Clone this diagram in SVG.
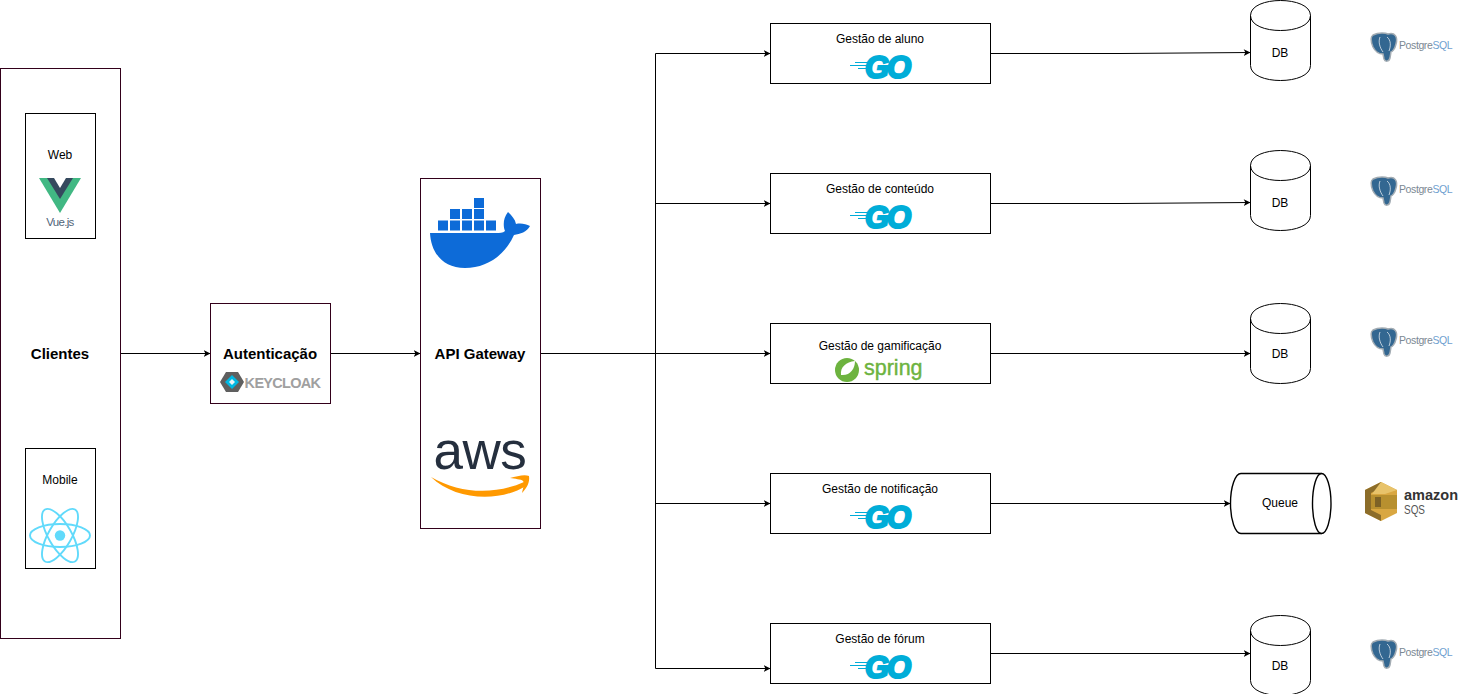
<svg xmlns="http://www.w3.org/2000/svg" width="1471" height="694" viewBox="0 0 1471 694">
<style>
text{font-family:"Liberation Sans",Arial,sans-serif;fill:#000;text-anchor:middle}
.t{font-size:12px}
.b{font-size:15px;font-weight:700}
.p{fill:#fff;stroke:#33001a;stroke-width:1}
.k{fill:#fff;stroke:#000;stroke-width:1}
.c{fill:none;stroke:#000;stroke-width:1}
.g{font-size:31px;font-weight:700;font-style:italic;fill:#00add8;stroke:#00add8;stroke-width:2.200px;letter-spacing:-2px}
</style>
<defs>
<marker id="a" markerWidth="8" markerHeight="8" refX="7" refY="4" orient="auto" markerUnits="userSpaceOnUse"><path d="M0.200 0.600L7 4L0.200 7.400L1.900 4Z" fill="#000"/></marker>
<g id="go">
<path d="M-9 -3.500H5M-14 -0.500H5M-6 2.500H3" stroke="#00add8" stroke-width="1" fill="none"/>
<text class="g" x="23" y="12">GO</text>
</g>
<g id="cyl">
<path class="k" d="M0 15C0 -5 60 -5 60 15V65C60 85 0 85 0 65Z"/>
<path class="c" d="M0 15C0 35 60 35 60 15"/>
</g>
<g id="pg">
<path d="M2 1C8 -2 15 -1 17 0C24 -2 27 3 25 10C24 15 21 18 20 18L19 24C18 28 14 28 13 25L12 20C8 20 4 17 2 13C0 8 -1 3 2 1Z" fill="#336791" stroke="#a3acb3" stroke-width="1.500"/>
<path d="M9 3C7 8 9 14 12 18M16 3C20 6 20 12 18 17" stroke="#dfe7ee" stroke-width=".8" fill="none"/>
<text x="28" y="15" style="font-size:10.500px;text-anchor:start;fill:#7b8893;letter-spacing:-.4px">Postgre<tspan fill="#6f9fd0">SQL</tspan></text>
</g>
</defs>

<g id="connectors">
<path class="c" marker-end="url(#a)" d="M120.500 353.500H210.500"/>
<path class="c" marker-end="url(#a)" d="M330.500 353.500H420.500"/>
<path class="c" marker-end="url(#a)" d="M540.500 353.500H770.500"/>
<path class="c" marker-end="url(#a)" d="M655.500 353.500V53.500H770.500"/>
<path class="c" marker-end="url(#a)" d="M655.500 353.500V203.500H770.500"/>
<path class="c" marker-end="url(#a)" d="M655.500 353.500V503.500H770.500"/>
<path class="c" marker-end="url(#a)" d="M655.500 353.500V668.500H770.500"/>
<path class="c" marker-end="url(#a)" d="M990.500 53.500H1120L1250.500 52.500"/>
<path class="c" marker-end="url(#a)" d="M990.500 203.500H1120L1250.500 202.500"/>
<path class="c" marker-end="url(#a)" d="M990.500 353.500H1250.500"/>
<path class="c" marker-end="url(#a)" d="M990.500 503.500H1230.500"/>
<path class="c" marker-end="url(#a)" d="M990.500 653.500H1250.500"/>
</g>

<g id="clientes">
<rect class="p" x="0.500" y="68.500" width="120" height="570"/>
<text class="b" x="60" y="359">Clientes</text>
</g>
<g id="web">
<rect class="k" x="25.500" y="113.500" width="70" height="125"/>
<text class="t" x="60" y="159">Web</text>
<path d="M39 178H81L60 213Z" fill="#41b883"/>
<path d="M47 178H73L60 199Z" fill="#35495e"/>
<path d="M54 178H66L60 188Z" fill="#fff"/>
<text x="60" y="226" style="font-size:11.500px;fill:#4f6478;letter-spacing:-.7px">Vue.js</text>
</g>
<g id="mobile">
<rect class="k" x="25.500" y="448.500" width="70" height="120"/>
<text class="t" x="60" y="484">Mobile</text>
<g fill="none" stroke="#61dafb" stroke-width="1.900">
<ellipse cx="60" cy="535.500" rx="30" ry="11.500"/>
<ellipse cx="60" cy="535.500" rx="30" ry="11.500" transform="rotate(60 60 535.500)"/>
<ellipse cx="60" cy="535.500" rx="30" ry="11.500" transform="rotate(120 60 535.500)"/>
</g>
<circle cx="60" cy="535.500" r="5.200" fill="#61dafb"/>
</g>
<g id="autenticacao">
<rect class="p" x="210.500" y="303.500" width="120" height="100"/>
<text class="b" x="270" y="359">Autenticação</text>
<path d="M226 372H238L244 382L238 392H226L220 382Z" fill="#5f5f5f"/>
<path d="M232 375L239 382L232 389L225 382Z" fill="#00b8e3"/>
<path d="M232 379L235 382L232 385L229 382Z" fill="#e8f4f8"/>
<text x="282.500" y="388" style="font-size:14.500px;font-weight:700;fill:#a0a0a0;letter-spacing:-.7px">KEYCLOAK</text>
</g>
<g id="api-gateway">
<rect class="p" x="420.500" y="178.500" width="120" height="350"/>
<text class="b" x="480" y="359">API Gateway</text>
<g fill="#0d6bd8">
<path d="M430 233H497C499 233 503 233 505 231C503 226 503 218 508 212C512 216 515 219 516 224C521 223 526 224 530 226C527 232 520 234 514 235C505 255 487 268 465 268C443 268 431 253 430 233Z"/>
<rect x="438" y="220.500" width="10" height="10"/><rect x="450" y="220.500" width="10" height="10"/><rect x="462" y="220.500" width="10" height="10"/><rect x="474" y="220.500" width="10" height="10"/><rect x="486" y="220.500" width="10" height="10"/>
<rect x="450" y="209" width="10" height="10"/><rect x="462" y="209" width="10" height="10"/><rect x="474" y="209" width="10" height="10"/>
<rect x="474" y="198" width="10" height="10"/>
</g>
<text x="480" y="469" style="font-size:53px;fill:#252f3e;letter-spacing:-.5px">aws</text>
<path d="M431 477C460 494 495 495 524 482L526 486C498 503 455 500 431 477Z" fill="#ff9900"/>
<path d="M510 478C517 476 525 474 529 476C530 482 527 488 522 493C523 488 525 483 523 481C521 479 515 479 510 478Z" fill="#ff9900"/>
</g>
<g id="gestao-aluno">
<rect class="k" x="770.500" y="23.500" width="220" height="60"/>
<text class="t" x="880" y="43">Gestão de aluno</text>
<use href="#go" x="864" y="66"/>
</g>
<g id="gestao-conteudo">
<rect class="k" x="770.500" y="173.500" width="220" height="60"/>
<text class="t" x="880" y="193">Gestão de conteúdo</text>
<use href="#go" x="864" y="216"/>
</g>
<g id="gestao-gamificacao">
<rect class="k" x="770.500" y="323.500" width="220" height="60"/>
<text class="t" x="880" y="350">Gestão de gamificação</text>
<circle cx="847" cy="370" r="12" fill="#6db33f"/>
<path d="M841 375C840 367 846 362 855 361C855 369 850 376 841 375Z" fill="#fff"/>
<text x="864" y="375" style="font-size:21.500px;fill:#6db33f;stroke:#6db33f;stroke-width:.4px;text-anchor:start">spring</text>
</g>
<g id="gestao-notificacao">
<rect class="k" x="770.500" y="473.500" width="220" height="60"/>
<text class="t" x="880" y="493">Gestão de notificação</text>
<use href="#go" x="864" y="516"/>
</g>
<g id="gestao-forum">
<rect class="k" x="770.500" y="623.500" width="220" height="60"/>
<text class="t" x="880" y="643">Gestão de fórum</text>
<use href="#go" x="864" y="666"/>
</g>
<g id="db-aluno"><use href="#cyl" x="1250.500" y="0.500"/><text class="t" x="1280" y="57">DB</text></g>
<g id="db-conteudo"><use href="#cyl" x="1250.500" y="150.500"/><text class="t" x="1280" y="207">DB</text></g>
<g id="db-gamificacao"><use href="#cyl" x="1250.500" y="303.500"/><text class="t" x="1280" y="358">DB</text></g>
<g id="queue">
<path class="k" style="stroke-width:1.400" d="M1241 473.500H1321.500A9.500 30 0 0 1 1321.500 533.500H1241A10.500 30 0 0 1 1241 473.500Z"/>
<path class="c" style="stroke-width:1.400" d="M1321.500 473.500A9 30 0 0 0 1321.500 533.500"/>
<text class="t" x="1280" y="507">Queue</text>
</g>
<g id="db-forum"><use href="#cyl" x="1250.500" y="615.500"/><text class="t" x="1280" y="670">DB</text></g>
<g id="pg-aluno"><use href="#pg" x="1371" y="34"/></g>
<g id="pg-conteudo"><use href="#pg" x="1371" y="178"/></g>
<g id="pg-gamificacao"><use href="#pg" x="1371" y="329"/></g>
<g id="pg-forum"><use href="#pg" x="1371" y="641"/></g>
<g id="sqs">
<path d="M1381 482L1397 490V513L1381 521L1365 513V490Z" fill="#d9a741"/>
<path d="M1365 490L1381 482V488L1371 493V510L1381 515V521L1365 513Z" fill="#8c6d2a"/>
<path d="M1371 495H1397V509H1371Z" fill="#b8902f"/>
<path d="M1375 497H1381V507H1375Z" fill="#7d6226"/>
<path d="M1381 482L1397 490L1385 494H1372Z" fill="#e8c36a"/>
<text x="1404" y="500" style="font-size:14.500px;font-weight:700;fill:#333;text-anchor:start">amazon</text>
<text x="1404" y="514" style="font-size:13px;fill:#555;text-anchor:start" textLength="21" lengthAdjust="spacingAndGlyphs">SQS</text>
</g>
</svg>
